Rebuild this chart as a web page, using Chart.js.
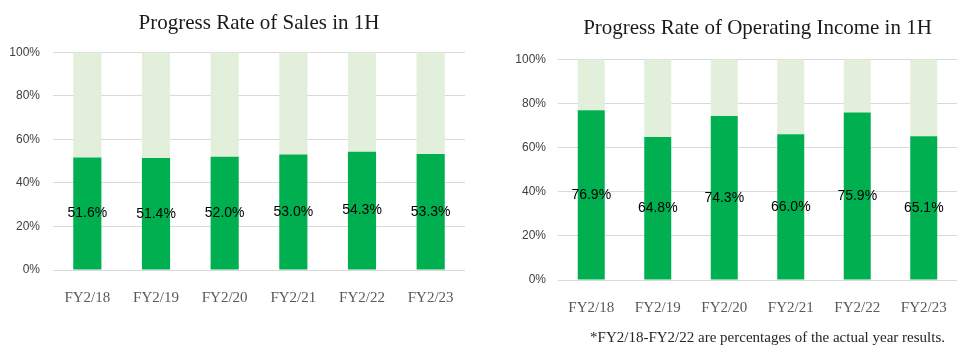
<!DOCTYPE html>
<html>
<head>
<meta charset="utf-8">
<script src="https://cdn.jsdelivr.net/npm/chart.js@4/dist/chart.umd.min.js"></script>
<style>
  html, body { margin: 0; padding: 0; background: #fff; }
  body { width: 967px; height: 355px; position: relative; overflow: hidden; }
  .box { position: absolute; top: 0; width: 480px; height: 355px; }
  #note { position: absolute; right: 22px; top: 329px; font-family: "Liberation Serif", "Times New Roman", serif; font-size: 15px; line-height: 17px; color: #262626; white-space: nowrap; }
</style>
</head>
<body>
<div class="box" style="left:0"><canvas id="c1" width="480" height="355"></canvas></div>
<div class="box" style="left:487px"><canvas id="c2" width="480" height="355"></canvas></div>
<div id="note">*FY2/18-FY2/22 are percentages of the actual year results.</div>
<script>
const categories = ["FY2/18", "FY2/19", "FY2/20", "FY2/21", "FY2/22", "FY2/23"];
const salesRate = [51.6, 51.4, 52.0, 53.0, 54.3, 53.3];
const opIncomeRate = [76.9, 64.8, 74.3, 66.0, 75.9, 65.1];
const yTicks = [0, 20, 40, 60, 80, 100];
const titleSales = "Progress Rate of Sales in 1H";
const titleOpIncome = "Progress Rate of Operating Income in 1H";

const DARK = "#00B050";
const LIGHT = "#E2EFDA";

const barLabels = {
  id: "barLabels",
  afterDatasetsDraw(chart) {
    const ctx = chart.ctx;
    const meta = chart.getDatasetMeta(0);
    const data = chart.data.datasets[0].data;
    ctx.save();
    ctx.font = "14px 'Liberation Sans', Arial, sans-serif";
    ctx.fillStyle = "#000";
    ctx.textAlign = "center";
    ctx.textBaseline = "middle";
    meta.data.forEach((bar, i) => {
      const p = bar.getProps(["x", "y", "base"], true);
      ctx.fillText(data[i].toFixed(1) + "%", p.x, (p.y + p.base) / 2);
    });
    ctx.restore();
  }
};

function makeChart(id, values, title, opts) {
  return new Chart(document.getElementById(id), {
    type: "bar",
    data: {
      labels: categories,
      datasets: [
        { data: values, backgroundColor: DARK, barPercentage: opts.barPct, categoryPercentage: 1 },
        { data: values.map(v => +(100 - v).toFixed(1)), backgroundColor: LIGHT, barPercentage: opts.barPct, categoryPercentage: 1 }
      ]
    },
    options: {
      responsive: false,
      animation: false,
      layout: { padding: { left: 0, right: opts.padR, top: 7, bottom: opts.padB } },
      plugins: {
        legend: { display: false },
        tooltip: { enabled: false },
        title: {
          display: true,
          text: title,
          fullSize: false,
          color: "#1a1a1a",
          font: { family: "'Liberation Serif', 'Times New Roman', serif", size: 21, weight: "normal", lineHeight: 1.2 },
          padding: { top: opts.titleTop, bottom: opts.titleBottom }
        }
      },
      scales: {
        x: {
          stacked: true,
          grid: { display: false },
          border: { display: false },
          ticks: { color: "#595959", padding: 11, font: { family: "'Liberation Serif', 'Times New Roman', serif", size: 15 } },
          afterFit(s) { s.height = 40; }
        },
        y: {
          stacked: true,
          min: 0,
          max: 100,
          afterBuildTicks(s) { s.ticks = yTicks.map(v => ({ value: v })); },
          grid: { color: "#d9d9d9", lineWidth: 1, drawTicks: false },
          border: { display: false },
          ticks: { color: "#404040", padding: opts.tickPad, font: { family: "'Liberation Sans', Arial, sans-serif", size: 12 }, callback: v => v + "%" },
          afterFit(s) { s.width = opts.yWidth; }
        }
      }
    },
    plugins: [barLabels]
  });
}

makeChart("c1", salesRate, titleSales, { barPct: 0.41, padR: 15, padB: 45, yWidth: 53, tickPad: 13, titleTop: 4, titleBottom: 16 });
makeChart("c2", opIncomeRate, titleOpIncome, { barPct: 0.406, padR: 10, padB: 35, yWidth: 71, tickPad: 12, titleTop: 9, titleBottom: 18 });
</script>
</body>
</html>
